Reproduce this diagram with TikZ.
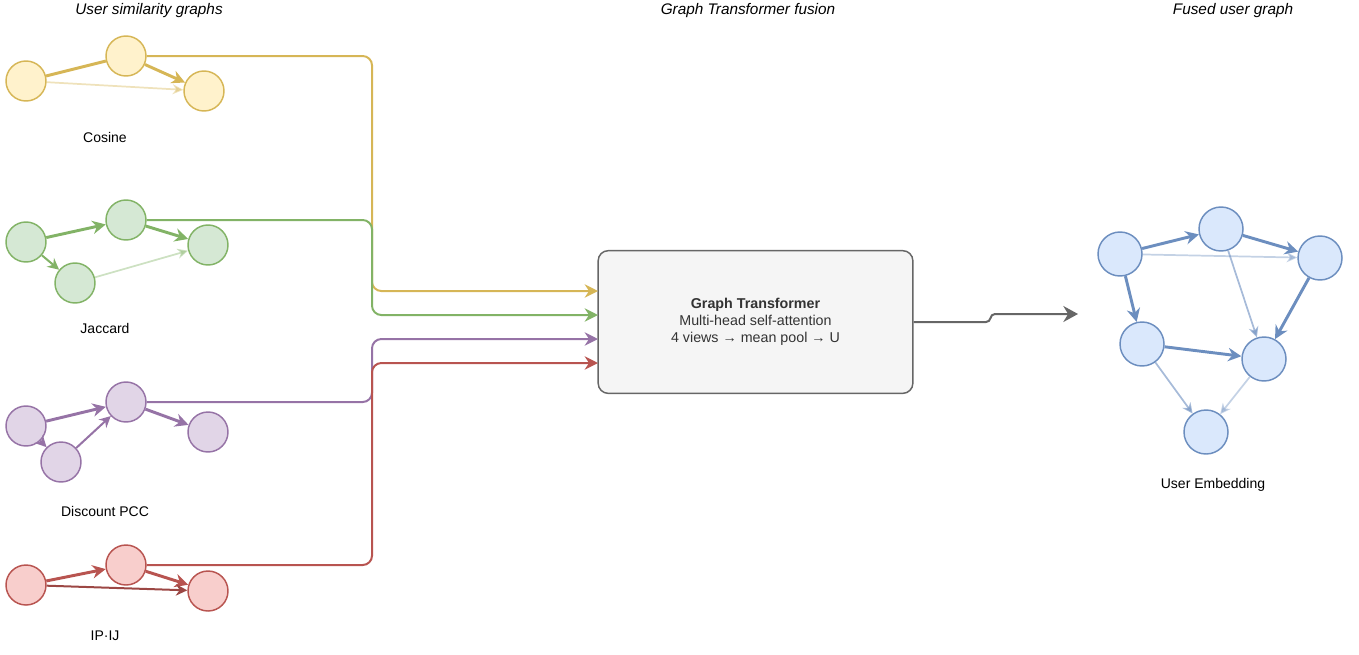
\documentclass[tikz,border=0pt]{standalone}
\usepackage{fontspec}
\setmainfont{Liberation Sans}
\usetikzlibrary{arrows.meta}
\definecolor{yS}{HTML}{D6B656}\definecolor{yF}{HTML}{FFF2CC}
\definecolor{gS}{HTML}{82B366}\definecolor{gF}{HTML}{D5E8D4}
\definecolor{pS}{HTML}{9673A6}\definecolor{pF}{HTML}{E1D5E7}
\definecolor{rS}{HTML}{B85450}\definecolor{rF}{HTML}{F8CECC}
\definecolor{bS}{HTML}{6C8EBF}\definecolor{bF}{HTML}{DAE8FC}
\definecolor{boxS}{HTML}{666666}\definecolor{boxF}{HTML}{F5F5F5}
\definecolor{txt}{HTML}{333333}
\begin{document}
\begin{tikzpicture}[x=0.75pt,y=-0.75pt,
  vnode/.style={circle, draw, line width=1.1pt, minimum size=30pt, inner sep=0pt},
  bnode/.style={circle, draw=bS, fill=bF, line width=1.1pt, minimum size=33pt, inner sep=0pt},
  heavy/.style={line width=2.2pt, -{Stealth[length=10pt,width=10pt]}},
  plainheavy/.style={line width=2.2pt},
  medium/.style={line width=1.5pt, -{Stealth[length=8.5pt,width=8.5pt]}},
  faint/.style={line width=1.3pt, -{Stealth[length=8pt,width=7.5pt]}, opacity=0.4},
  semi/.style={line width=1.3pt, -{Stealth[length=8pt,width=7.5pt]}, opacity=0.6},
  conn/.style={line width=1.5pt, rounded corners=7pt, -{Stealth[length=10pt,width=10pt]}},
  lbl/.style={font=\fontsize{10.5}{12.6}\selectfont, text=black},
  ttl/.style={font=\fontsize{11.5}{13.8}\selectfont\itshape, text=black}
]
\useasboundingbox (0,0) rectangle (1359,654);

% titles
\node[ttl] (t1) at (149,11) {User similarity graphs};
\node[ttl] (t2) at (748,11) {Graph Transformer fusion};
\node[ttl] (t3) at (1233,11) {Fused user graph};

% Cosine
\begin{scope}[every node/.append style={draw=yS, fill=yF}]
\node[vnode] (cA) at (26,81) {};
\node[vnode] (cB) at (126,56) {};
\node[vnode] (cC) at (204,91) {};
\end{scope}
\draw[plainheavy, yS] (cA) -- (cB);
\draw[heavy, yS] (cB) -- (cC);
\draw[faint, yS] (cA) -- (cC);
\node[lbl] (lc) at (105,137) {Cosine};

% Jaccard
\begin{scope}[every node/.append style={draw=gS, fill=gF}]
\node[vnode] (jA) at (26,242) {};
\node[vnode] (jB) at (126,220) {};
\node[vnode] (jC) at (208,245) {};
\node[vnode] (jD) at (75,283) {};
\end{scope}
\draw[heavy, gS] (jA) -- (jB);
\draw[heavy, gS] (jB) -- (jC);
\draw[medium, gS] (jA) -- (jD);
\draw[faint, gS] (jD) -- (jC);
\node[lbl] (lj) at (105,328) {Jaccard};

% Discount PCC
\begin{scope}[every node/.append style={draw=pS, fill=pF}]
\node[vnode] (pA) at (26,426) {};
\node[vnode] (pB) at (126,402) {};
\node[vnode] (pC) at (208,432) {};
\node[vnode] (pD) at (61,462) {};
\end{scope}
\draw[heavy, pS] (pA) -- (pB);
\draw[heavy, pS] (pB) -- (pC);
\draw[medium, pS] (pD) -- (pB);
\draw[medium, pS] (pA) -- (pD);
\node[lbl] (lp) at (105,511) {Discount PCC};

% IP-IJ
\begin{scope}[every node/.append style={draw=rS, fill=rF}]
\node[vnode] (iA) at (26,585) {};
\node[vnode] (iB) at (126,565) {};
\node[vnode] (iC) at (208,591) {};
\end{scope}
\draw[heavy, rS] (iA) -- (iB);
\draw[heavy, rS] (iB) -- (iC);
\draw[medium, rS!85!black] (iA) -- (iC);
\node[lbl] (li) at (105,636) {IP·IJ};

% Graph Transformer box
\node[draw=boxS, fill=boxF, line width=1.1pt, rounded corners=7.5pt,
      minimum width=236pt, minimum height=107pt, align=center, text=txt,
      font=\fontsize{10.7}{12.75}\selectfont] (gt) at (755.5,322)
  {\textbf{Graph Transformer}\\Multi-head self-attention\\4 views → mean pool → U};

\coordinate (in1) at (598,291);
\coordinate (in2) at (598,315);
\coordinate (in3) at (598,339);
\coordinate (in4) at (598,363);
\draw[conn, yS] (cB.east) -| (372,291) -- (in1);
\draw[conn, gS] (jB.east) -| (372,315) -- (in2);
\draw[conn, pS] (pB.east) -| (372,339) -- (in3);
\draw[conn, rS] (iB.east) -| (372,363) -- (in4);

% output
\coordinate (ue) at (1078,314);
\draw[line width=1.5pt, boxS, rounded corners=3pt, -{Stealth[length=11pt,width=12pt]}]
  (gt.east) -- (990,322) -- (991,314) -- (ue);

% Fused graph
\node[bnode] (n1) at (1120,254) {};
\node[bnode] (n2) at (1221,229) {};
\node[bnode] (n3) at (1320,258) {};
\node[bnode] (n4) at (1142,344) {};
\node[bnode] (n5) at (1264,359) {};
\node[bnode] (n6) at (1206,432) {};
\draw[heavy, bS] (n1) -- (n2);
\draw[heavy, bS] (n2) -- (n3);
\draw[faint, bS] (n1) -- (n3);
\draw[heavy, bS] (n1) -- (n4);
\draw[semi, bS] (n2) -- (n5);
\draw[heavy, bS] (n3) -- (n5);
\draw[heavy, bS] (n4) -- (n5);
\draw[semi, bS] (n4) -- (n6);
\draw[faint, bS] (n5) -- (n6);
\node[lbl] (lu) at (1213,485) {User Embedding};
\end{tikzpicture}
\end{document}
